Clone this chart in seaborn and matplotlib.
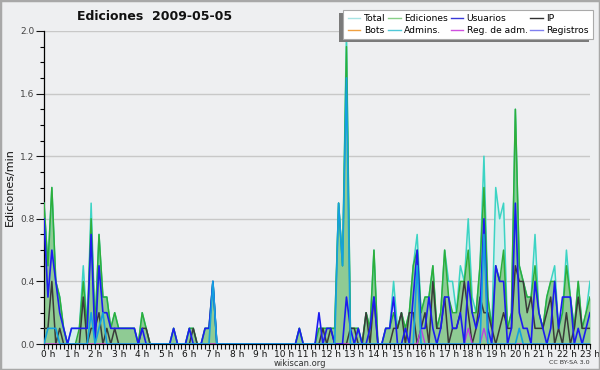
import numpy as np
import matplotlib
matplotlib.use("Agg")
import matplotlib.pyplot as plt
import seaborn as sns
from matplotlib.lines import Line2D
from matplotlib.patches import Rectangle
from matplotlib.transforms import ScaledTranslation, IdentityTransform

title = "Ediciones  2009-05-05"
ylabel = "Ediciones/min"
hour_labels = [f"{h} h" for h in range(24)]
ytick_vals = [0.0, 0.4, 0.8, 1.2, 1.6, 2.0]
ytick_labels = ["0.0", "0.4", "0.8", "1.2", "1.6", "2.0"]

# 10-minute samples, one row per hour
total = [
    0.9, 0.5, 1.0, 0.4, 0.3, 0.1,
    0.0, 0.1, 0.1, 0.1, 0.5, 0.1,
    0.9, 0.1, 0.7, 0.3, 0.3, 0.1,
    0.2, 0.1, 0.1, 0.1, 0.1, 0.1,
    0.0, 0.2, 0.1, 0.0, 0.0, 0.0,
    0.0, 0.0, 0.0, 0.1, 0.0, 0.0,
    0.0, 0.1, 0.1, 0.0, 0.0, 0.1,
    0.1, 0.4, 0.0, 0.0, 0.0, 0.0,
    0.0, 0.0, 0.0, 0.0, 0.0, 0.0,
    0.0, 0.0, 0.0, 0.0, 0.0, 0.0,
    0.0, 0.0, 0.0, 0.0, 0.0, 0.1,
    0.0, 0.0, 0.0, 0.0, 0.1, 0.1,
    0.1, 0.1, 0.1, 0.9, 0.5, 2.0,
    0.1, 0.1, 0.1, 0.0, 0.2, 0.1,
    0.6, 0.0, 0.0, 0.1, 0.1, 0.4,
    0.1, 0.2, 0.1, 0.2, 0.5, 0.7,
    0.2, 0.3, 0.3, 0.5, 0.1, 0.2,
    0.6, 0.4, 0.4, 0.2, 0.5, 0.4,
    0.8, 0.3, 0.2, 0.5, 1.2, 0.3,
    0.1, 1.0, 0.8, 0.9, 0.1, 0.2,
    1.5, 0.5, 0.4, 0.3, 0.3, 0.7,
    0.2, 0.1, 0.3, 0.4, 0.5, 0.1,
    0.2, 0.6, 0.3, 0.1, 0.4, 0.1,
    0.2, 0.4,
]
edits = [
    0.9, 0.5, 1.0, 0.4, 0.3, 0.1,
    0.0, 0.0, 0.0, 0.1, 0.4, 0.1,
    0.8, 0.1, 0.7, 0.3, 0.3, 0.1,
    0.2, 0.1, 0.1, 0.1, 0.1, 0.1,
    0.0, 0.2, 0.1, 0.0, 0.0, 0.0,
    0.0, 0.0, 0.0, 0.1, 0.0, 0.0,
    0.0, 0.1, 0.1, 0.0, 0.0, 0.1,
    0.1, 0.4, 0.0, 0.0, 0.0, 0.0,
    0.0, 0.0, 0.0, 0.0, 0.0, 0.0,
    0.0, 0.0, 0.0, 0.0, 0.0, 0.0,
    0.0, 0.0, 0.0, 0.0, 0.0, 0.1,
    0.0, 0.0, 0.0, 0.0, 0.1, 0.1,
    0.1, 0.1, 0.1, 0.9, 0.5, 1.9,
    0.1, 0.1, 0.1, 0.0, 0.2, 0.1,
    0.6, 0.0, 0.0, 0.1, 0.1, 0.2,
    0.1, 0.2, 0.1, 0.2, 0.5, 0.6,
    0.2, 0.3, 0.3, 0.5, 0.1, 0.2,
    0.6, 0.3, 0.2, 0.2, 0.4, 0.4,
    0.6, 0.2, 0.2, 0.5, 1.0, 0.3,
    0.1, 0.5, 0.4, 0.6, 0.1, 0.2,
    1.5, 0.5, 0.4, 0.3, 0.3, 0.5,
    0.2, 0.1, 0.3, 0.4, 0.4, 0.1,
    0.2, 0.5, 0.3, 0.1, 0.4, 0.1,
    0.2, 0.3,
]
users = [
    0.8, 0.3, 0.6, 0.4, 0.2, 0.1,
    0.0, 0.1, 0.1, 0.1, 0.1, 0.1,
    0.7, 0.0, 0.5, 0.2, 0.2, 0.1,
    0.1, 0.1, 0.1, 0.1, 0.1, 0.1,
    0.0, 0.1, 0.0, 0.0, 0.0, 0.0,
    0.0, 0.0, 0.0, 0.1, 0.0, 0.0,
    0.0, 0.1, 0.0, 0.0, 0.0, 0.1,
    0.1, 0.4, 0.0, 0.0, 0.0, 0.0,
    0.0, 0.0, 0.0, 0.0, 0.0, 0.0,
    0.0, 0.0, 0.0, 0.0, 0.0, 0.0,
    0.0, 0.0, 0.0, 0.0, 0.0, 0.1,
    0.0, 0.0, 0.0, 0.0, 0.2, 0.0,
    0.1, 0.1, 0.0, 0.0, 0.0, 0.3,
    0.1, 0.0, 0.1, 0.0, 0.0, 0.1,
    0.3, 0.0, 0.0, 0.1, 0.1, 0.3,
    0.0, 0.0, 0.1, 0.0, 0.3, 0.6,
    0.1, 0.1, 0.3, 0.1, 0.0, 0.1,
    0.3, 0.3, 0.1, 0.1, 0.2, 0.0,
    0.4, 0.2, 0.1, 0.2, 0.8, 0.1,
    0.0, 0.5, 0.4, 0.4, 0.0, 0.1,
    0.9, 0.2, 0.1, 0.1, 0.0, 0.4,
    0.2, 0.1, 0.0, 0.1, 0.4, 0.1,
    0.3, 0.3, 0.3, 0.0, 0.1, 0.0,
    0.1, 0.2,
]
ip = [
    0.1, 0.1, 0.4, 0.0, 0.1, 0.0,
    0.0, 0.0, 0.0, 0.0, 0.3, 0.0,
    0.1, 0.1, 0.2, 0.0, 0.1, 0.0,
    0.1, 0.0, 0.0, 0.0, 0.0, 0.0,
    0.0, 0.1, 0.1, 0.0, 0.0, 0.0,
    0.0, 0.0, 0.0, 0.0, 0.0, 0.0,
    0.0, 0.0, 0.1, 0.0, 0.0, 0.0,
    0.0, 0.0, 0.0, 0.0, 0.0, 0.0,
    0.0, 0.0, 0.0, 0.0, 0.0, 0.0,
    0.0, 0.0, 0.0, 0.0, 0.0, 0.0,
    0.0, 0.0, 0.0, 0.0, 0.0, 0.0,
    0.0, 0.0, 0.0, 0.0, 0.0, 0.1,
    0.0, 0.1, 0.0, 0.0, 0.0, 0.0,
    0.1, 0.1, 0.0, 0.0, 0.2, 0.0,
    0.3, 0.0, 0.0, 0.0, 0.0, 0.1,
    0.1, 0.2, 0.0, 0.2, 0.2, 0.0,
    0.1, 0.2, 0.0, 0.4, 0.1, 0.1,
    0.3, 0.0, 0.1, 0.1, 0.2, 0.4,
    0.2, 0.0, 0.1, 0.3, 0.2, 0.2,
    0.1, 0.0, 0.1, 0.2, 0.1, 0.1,
    0.5, 0.4, 0.4, 0.2, 0.3, 0.1,
    0.1, 0.1, 0.2, 0.3, 0.0, 0.1,
    0.0, 0.2, 0.0, 0.1, 0.3, 0.1,
    0.1, 0.1,
]
admins = [
    0.0, 0.1, 0.1, 0.1, 0.0, 0.0,
    0.0, 0.0, 0.0, 0.0, 0.0, 0.0,
    0.2, 0.0, 0.1, 0.2, 0.0, 0.0,
    0.0, 0.0, 0.0, 0.0, 0.0, 0.0,
    0.0, 0.0, 0.0, 0.0, 0.0, 0.0,
    0.0, 0.0, 0.0, 0.0, 0.0, 0.0,
    0.0, 0.0, 0.0, 0.0, 0.0, 0.0,
    0.0, 0.4, 0.0, 0.0, 0.0, 0.0,
    0.0, 0.0, 0.0, 0.0, 0.0, 0.0,
    0.0, 0.0, 0.0, 0.0, 0.0, 0.0,
    0.0, 0.0, 0.0, 0.0, 0.0, 0.0,
    0.0, 0.0, 0.0, 0.0, 0.0, 0.0,
    0.0, 0.0, 0.0, 0.9, 0.5, 1.7,
    0.0, 0.0, 0.0, 0.0, 0.0, 0.0,
    0.0, 0.0, 0.0, 0.0, 0.0, 0.0,
    0.0, 0.0, 0.0, 0.0, 0.0, 0.5,
    0.0, 0.0, 0.0, 0.0, 0.0, 0.0,
    0.0, 0.0, 0.0, 0.0, 0.0, 0.0,
    0.0, 0.0, 0.0, 0.0, 0.7, 0.0,
    0.0, 0.0, 0.0, 0.0, 0.0, 0.0,
    0.0, 0.1, 0.0, 0.0, 0.0, 0.0,
    0.0, 0.0, 0.0, 0.0, 0.0, 0.0,
    0.0, 0.0, 0.0, 0.0, 0.0, 0.0,
    0.0, 0.0,
]
reg_adm = [0.0] * 96 + [0.1] + [0.0] * 11 + [0.1, 0.0, 0.0, 0.0, 0.1] + [0.0] * 27

legend_labels = ["Total", "Bots", "Ediciones", "Admins.",
                 "Usuarios", "Reg. de adm.", "IP", "Registros"]
legend_colors = ["#a8e4e4", "#f0a040", "#88d088", "#50c8d8",
                 "#3838d8", "#d050e0", "#303030", "#8080f0"]

BG = "#eeeff1"
hours = np.arange(len(total)) / 6.0

plt.rcParams["font.family"] = ["DejaVu Sans"]
fig = plt.figure(figsize=(6, 3.7), dpi=100, facecolor=BG)
ax = fig.add_axes([44 / 600, 1 - 344 / 370, 546 / 600, 313 / 370])
ax.set_facecolor(BG)

ax.fill_between(hours, total, color="#d4eeee", lw=0, zorder=1)
ax.fill_between(hours, edits, color="#8fcb94", lw=0, zorder=2)
sns.lineplot(x=hours, y=total, color="#3cd4c4", lw=1.1, ax=ax, zorder=3, estimator=None)
sns.lineplot(x=hours, y=edits, color="#2eae3a", lw=1.1, ax=ax, zorder=4, estimator=None)
sns.lineplot(x=hours, y=ip, color="#3a3a3a", lw=1.1, ax=ax, zorder=5, estimator=None)
sns.lineplot(x=hours, y=reg_adm, color="#c040e0", lw=1.0, ax=ax, zorder=5, estimator=None)
sns.lineplot(x=hours, y=users, color="#1c1cf0", lw=1.2, ax=ax, zorder=6, estimator=None)
sns.lineplot(x=hours, y=admins, color="#14a0e0", lw=1.2, ax=ax, zorder=7, estimator=None)

ax.set_xlim(0, hours[-1])
ax.set_ylim(0, 2.0)
ax.set_xticks(np.arange(24))
ax.set_xticklabels(hour_labels)
ax.set_xticks(hours, minor=True)
ax.set_yticks(ytick_vals)
ax.set_yticklabels(ytick_labels)
ax.set_yticks(np.round(np.arange(0, 2.01, 0.1), 1), minor=True)
ax.tick_params(axis="x", which="both", length=3.5, width=0.8, labelsize=6.5,
               pad=0.5, colors="#111111")
ax.tick_params(axis="y", which="major", length=6, width=0.8, labelsize=6.5,
               pad=1, colors="#111111", labelcolor="#444444")
ax.tick_params(axis="y", which="minor", length=3, width=0.8)
for lab in ax.get_xticklabels():
    lab.set_transform(lab.get_transform() + ScaledTranslation(3 / 72, 0, fig.dpi_scale_trans))
ax.grid(axis="y", which="major", color="#c8c8c8", lw=1)
ax.set_axisbelow(True)
for s in ["top", "right"]:
    ax.spines[s].set_visible(False)
for s in ["left", "bottom"]:
    ax.spines[s].set_color("#000000")
    ax.spines[s].set_linewidth(0.9)
ax.set_xlabel("")
ax.set_ylabel("")

fig.text(155 / 600, 1 - 17 / 370, title, ha="center", va="center",
         fontsize=9, fontweight="bold", color="#111111")
fig.text(10 / 600, 1 - 187 / 370, ylabel, rotation=90, ha="center",
         va="center", fontsize=8, color="#111111")
fig.text(300 / 600, 1 - 363 / 370, "wikiscan.org", ha="center",
         va="center", fontsize=6, color="#333333")
fig.text(590 / 600, 1 - 363 / 370, "CC BY-SA 3.0", ha="right",
         va="center", fontsize=4.6, color="#333333")

handles = [Line2D([], [], color=c, lw=1) for c in legend_colors]
leg = fig.legend(handles, legend_labels, ncol=4, loc="upper right",
                 bbox_to_anchor=(593 / 600, 1 - 10 / 370), fontsize=6.6,
                 frameon=True, fancybox=False, handlelength=1.4,
                 handletextpad=0.35, columnspacing=0.3, labelspacing=0.3,
                 borderpad=0.45, borderaxespad=0, edgecolor="#aaaaaa",
                 framealpha=1, facecolor="white")
leg.get_frame().set_linewidth(0.8)
leg.set_zorder(20)
fig.canvas.draw()
bb = leg.get_window_extent()
fig.add_artist(Rectangle((bb.x0 - 4, bb.y0 - 3), bb.width, bb.height,
                         transform=IdentityTransform(), facecolor="#7a7a7a",
                         edgecolor="none", zorder=19))
fig.add_artist(Rectangle((0, 0), 1, 1, transform=fig.transFigure, fill=False,
                         edgecolor="#a8a8a8", lw=2.5, zorder=30))

fig.savefig("out.png", dpi=100, facecolor=BG)
